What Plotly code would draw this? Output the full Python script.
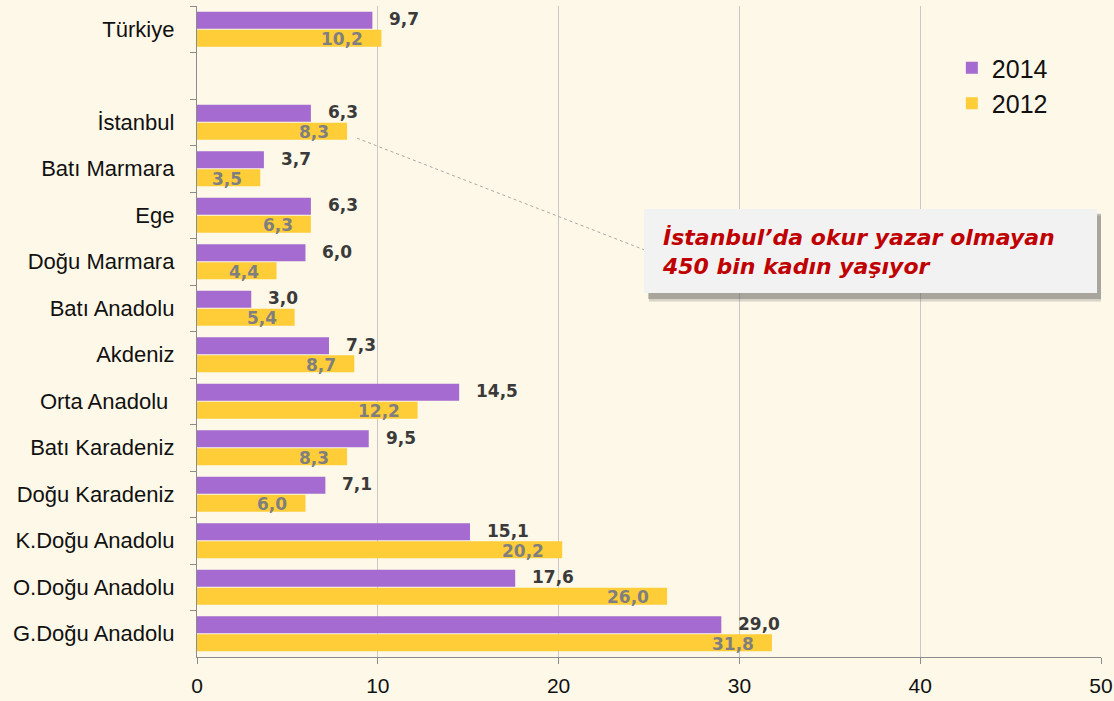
import plotly.graph_objects as go

categories = ["Türkiye", " ", "İstanbul", "Batı Marmara", "Ege", "Doğu Marmara", "Batı Anadolu",
              "Akdeniz", "Orta Anadolu ", "Batı Karadeniz", "Doğu Karadeniz", "K.Doğu Anadolu",
              "O.Doğu Anadolu", "G.Doğu Anadolu"]
values_2014 = [9.7, None, 6.3, 3.7, 6.3, 6.0, 3.0, 7.3, 14.5, 9.5, 7.1, 15.1, 17.6, 29.0]
values_2012 = [10.2, None, 8.3, 3.5, 6.3, 4.4, 5.4, 8.7, 12.2, 8.3, 6.0, 20.2, 26.0, 31.8]
x_ticks = [0, 10, 20, 30, 40, 50]
note_text = "İstanbul’da okur yazar olmayan<br>450 bin kadın yaşıyor"

BG = "#fef8e8"
PURPLE = "#a66bd0"
YELLOW = "#ffcd38"

def fmt(v):
    return f"{v:.1f}".replace(".", ",")

fig = go.Figure()
fig.add_trace(go.Bar(name="2014", y=categories, x=values_2014, orientation="h",
                     marker=dict(color=PURPLE, line=dict(width=0))))
fig.add_trace(go.Bar(name="2012", y=categories, x=values_2012, orientation="h",
                     marker=dict(color=YELLOW, line=dict(width=0))))

annotations = []
for c, v in zip(categories, values_2014):
    if v is None:
        continue
    annotations.append(dict(x=v, y=c, xref="x", yref="y", text=f"<b>{fmt(v)}</b>",
                            showarrow=False, xanchor="left", yanchor="middle",
                            xshift=15, yshift=10,
                            font=dict(family="DejaVu Sans", size=17, color="#3a3a3a")))
for c, v in zip(categories, values_2012):
    if v is None:
        continue
    annotations.append(dict(x=max(v, 2.83), y=c, xref="x", yref="y", text=f"<b>{fmt(v)}</b>",
                            showarrow=False, xanchor="right", yanchor="middle",
                            xshift=-16, yshift=-10,
                            font=dict(family="DejaVu Sans", size=17, color="#7f7f7f")))

# callout text
annotations.append(dict(x=25.6, y=0.622, xref="x", yref="paper", text=f"<b><i>{note_text}</i></b>",
                        showarrow=False, xanchor="left", yanchor="middle", align="left",
                        font=dict(family="DejaVu Sans", size=22, color="#c00000")))

shapes = [
    # connector line
    dict(type="line", xref="x", yref="paper", x0=8.85, y0=0.797, x1=24.78, y1=0.625,
         line=dict(color="#a8a8a8", width=1, dash="dot")),
    # shadow layers
    dict(type="rect", xref="x", yref="paper", x0=25.0, x1=50.25, y0=0.546, y1=0.678,
         line=dict(width=0), fillcolor="rgba(80,80,80,0.22)", layer="above"),
    dict(type="rect", xref="x", yref="paper", x0=24.95, x1=50.12, y0=0.550, y1=0.681,
         line=dict(width=0), fillcolor="rgba(80,80,80,0.35)", layer="above"),
    # box
    dict(type="rect", xref="x", yref="paper", x0=24.72, x1=49.78, y0=0.559, y1=0.688,
         line=dict(width=0), fillcolor="#f2f2f2", layer="above"),
]

fig.update_layout(
    width=1114, height=701,
    margin=dict(l=197, r=13, t=6, b=44, autoexpand=False),
    paper_bgcolor=BG, plot_bgcolor=BG,
    barmode="group", bargap=0.225, bargroupgap=0.05,
    font=dict(family="Liberation Sans", size=22, color="#111111"),
    showlegend=True,
    legend=dict(x=0.835, y=0.94, xanchor="left", yanchor="top", bgcolor="rgba(0,0,0,0)",
                font=dict(family="Liberation Sans", size=25, color="#111111"),
                itemwidth=30, tracegroupgap=0),
    annotations=annotations,
    shapes=shapes,
    xaxis=dict(range=[0, 50], tickvals=x_ticks, ticktext=[str(t) for t in x_ticks],
               showgrid=True, gridcolor="#c8c8c8", gridwidth=1.3,
               zeroline=False, showline=True, linecolor="#8c8c8c", linewidth=1.3,
               ticks="outside", ticklen=6, tickcolor="#8c8c8c", ticklabelstandoff=4,
               tickfont=dict(family="Liberation Sans", size=21, color="#111111"),
               fixedrange=True),
    yaxis=dict(categoryorder="array", categoryarray=categories, autorange="reversed",
               type="category", showline=True, linecolor="#8c8c8c", linewidth=1.3,
               ticks="outside", ticklen=6, tickcolor="#8c8c8c", tickson="boundaries",
               showgrid=False, ticklabelstandoff=17,
               tickfont=dict(family="Liberation Sans", size=22, color="#111111"),
               fixedrange=True),
)

fig.write_html("out.html", config={"displayModeBar": False},
               post_script="document.body.style.margin='0';document.body.style.padding='0';")
